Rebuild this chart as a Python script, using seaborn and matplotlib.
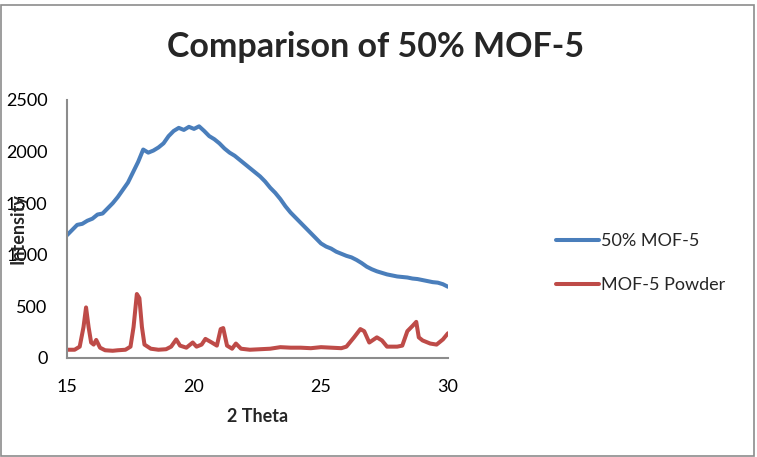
import matplotlib
matplotlib.use("Agg")
import matplotlib.pyplot as plt
import seaborn as sns
import pandas as pd
from matplotlib.patches import Rectangle
from matplotlib.lines import Line2D

blue_x = [15.0 + 0.2 * i for i in range(76)]
blue_y = [1190, 1240, 1290, 1300, 1330, 1350, 1390, 1400, 1450, 1500,
          1560, 1630, 1700, 1800, 1900, 2020, 1990, 2010, 2040, 2080,
          2150, 2200, 2230, 2210, 2240, 2220, 2245, 2200, 2150, 2120,
          2080, 2030, 1990, 1960, 1920, 1880, 1840, 1800, 1760, 1710,
          1650, 1600, 1540, 1470, 1410, 1360, 1310, 1260, 1210, 1160,
          1110, 1080, 1060, 1030, 1010, 990, 975, 950, 920, 885,
          860, 840, 825, 810, 800, 790, 785, 780, 770, 765,
          755, 745, 735, 730, 715, 690]

red_x = [15.0, 15.3, 15.5, 15.65, 15.75, 15.85, 15.95, 16.05, 16.15, 16.3,
         16.5, 16.8, 17.0, 17.3, 17.5, 17.62, 17.75, 17.85, 17.95, 18.05,
         18.3, 18.6, 18.9, 19.1, 19.3, 19.45, 19.7, 19.95, 20.1, 20.3,
         20.45, 20.7, 20.9, 21.05, 21.15, 21.3, 21.5, 21.65, 21.85, 22.2,
         22.6, 23.0, 23.4, 23.8, 24.2, 24.6, 25.0, 25.4, 25.8, 26.0,
         26.3, 26.55, 26.7, 26.9, 27.2, 27.4, 27.6, 28.0, 28.2, 28.4,
         28.6, 28.75, 28.85, 29.0, 29.3, 29.55, 29.8, 30.0]
red_y = [80, 80, 110, 300, 490, 300, 150, 130, 175, 100,
         75, 70, 75, 80, 110, 300, 620, 580, 300, 130,
         90, 80, 85, 110, 180, 120, 100, 150, 110, 130,
         185, 150, 120, 280, 290, 120, 90, 140, 90, 80,
         85, 90, 105, 100, 100, 95, 105, 100, 95, 110,
         200, 280, 260, 150, 200, 170, 110, 110, 120, 260,
         310, 350, 200, 170, 140, 130, 180, 240]

series_names = ["50% MOF-5", "MOF-5 Powder"]
x_ticks = [15, 20, 25, 30]
y_ticks = [0, 500, 1000, 1500, 2000, 2500]

df = pd.concat([
    pd.DataFrame({"x": blue_x, "y": blue_y, "s": series_names[0]}),
    pd.DataFrame({"x": red_x, "y": red_y, "s": series_names[1]}),
])

sns.set_style("white")
plt.rcParams['font.family'] = ['Lato', 'DejaVu Sans']

colors = ["#4A7EBB", "#BE4B48"]
fig = plt.figure(figsize=(7.57, 4.57), dpi=100)
ax = fig.add_axes([67 / 757, 1 - 358 / 457, (448 - 67) / 757, (358 - 100) / 457])
sns.lineplot(data=df, x="x", y="y", hue="s", palette=colors,
             linewidth=2.9, ax=ax, legend=False, sort=False)

ax.set_xlim(15, 30)
ax.set_ylim(0, 2500)
ax.set_xticks(x_ticks)
ax.set_yticks(y_ticks)
ax.tick_params(length=0, labelsize=13, colors="black")
ax.tick_params(axis="x", pad=15)
ax.tick_params(axis="y", pad=14)
for side in ["top", "right"]:
    ax.spines[side].set_visible(False)
for side in ["left", "bottom"]:
    ax.spines[side].set_color("#8C8C8C")
    ax.spines[side].set_linewidth(1.5)

ax.set_xlabel("")
ax.set_ylabel("")
fig.text(258 / 757, 1 - 416 / 457, "2 Theta", ha="center", va="center",
         fontsize=13, fontweight="bold")
fig.text(18 / 757, 1 - 229 / 457, "Intensity", ha="center", va="center",
         fontsize=13, fontweight="bold", rotation=90)
fig.text(376 / 757, 1 - 47 / 457, "Comparison of 50% MOF-5", ha="center", va="center",
         fontsize=24.5, fontweight="bold")

handles = [Line2D([], [], color=c, lw=2.9) for c in colors]
fig.legend(handles, series_names, loc="center left",
           bbox_to_anchor=(540 / 757, 1 - 263 / 457), frameon=False,
           fontsize=13, handlelength=2.35, handletextpad=0.15, labelspacing=1.55)

fig.patches.append(Rectangle((1 / 757, 1 / 457), 753 / 757, 451 / 457,
                             transform=fig.transFigure, fill=False,
                             edgecolor="#8C8C8C", linewidth=1.2))

fig.savefig("out.png", dpi=100)
